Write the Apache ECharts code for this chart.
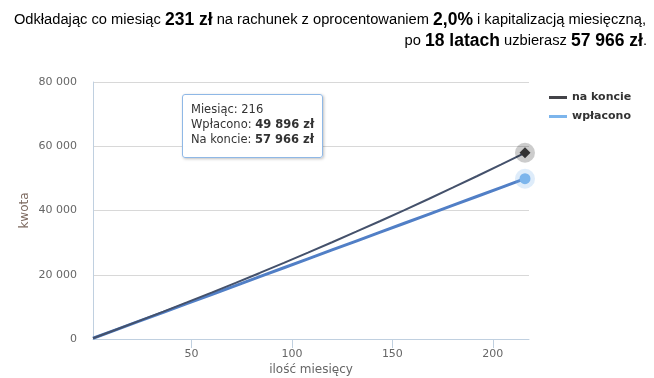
<!DOCTYPE html>
<html>
<head>
    <meta charset="utf-8">
    <title>Oszczędzanie</title>
    <script src="https://cdn.jsdelivr.net/npm/echarts@6/dist/echarts.min.js"></script>
    <style>
        html, body { margin: 0; padding: 0; background: #fff; }
    </style>
</head>
<body>
<div id="main" style="width: 654px;height:378px;"></div>
<script type="text/javascript">
    // miesiące (co rok) i kwoty
    var months = [1, 12, 24, 36, 48, 60, 72, 84, 96, 108, 120, 132, 144, 156, 168, 180, 192, 204, 216];
    var wplacono = [231, 2772, 5544, 8316, 11088, 13860, 16632, 19404, 22176, 24948, 27720, 30492, 33264, 36036, 38808, 41580, 44352, 47124, 49896];
    var naKoncie = [231, 2797, 5639, 8527, 11463, 14446, 17478, 20560, 23692, 26875, 30110, 33398, 36740, 40136, 43587, 47095, 50660, 54283, 57966];
    var yTicks = [0, 20000, 40000, 60000, 80000];
    var xTicks = [50, 100, 150, 200];

    function fmt(v) {
        return String(v).replace(/\B(?=(\d{3})+(?!\d))/g, ' ');
    }
    function pairs(ys) {
        return months.map(function (m, i) { return [m, ys[i]]; });
    }

    var last = months.length - 1;
    var font = 'DejaVu Sans';
    var titleStyle = {
        fontFamily: 'Liberation Sans', fontSize: 14.7, fontWeight: 'normal', color: '#000',
        rich: { b: { fontFamily: 'Liberation Sans', fontSize: 17.5, fontWeight: 'bold', color: '#000' } }
    };

    var myChart = echarts.init(document.getElementById('main'));
    myChart.setOption({
        animation: false,
        title: [{
            right: 8,
            top: 11,
            padding: 0,
            text: 'Odkładając co miesiąc {b|231 zł} na rachunek z oprocentowaniem {b|2,0%} i kapitalizacją miesięczną,',
            textStyle: titleStyle
        }, {
            right: 7,
            top: 32,
            padding: 0,
            text: 'po {b|18 latach} uzbierasz {b|57 966 zł}.',
            textStyle: titleStyle
        }],
        legend: {
            orient: 'vertical',
            left: 549,
            top: 92,
            padding: 0,
            itemGap: 8,
            itemWidth: 18,
            itemHeight: 3,
            icon: 'rect',
            textStyle: { fontFamily: font, fontSize: 11, fontWeight: 'bold', color: '#333' },
            data: [
                { name: 'na koncie', itemStyle: { color: '#434348' } },
                { name: 'wpłacono', itemStyle: { color: '#7cb5ec' } }
            ]
        },
        tooltip: {
            trigger: 'axis',
            alwaysShowContent: true,
            transitionDuration: 0,
            axisPointer: { type: 'none' },
            position: [182, 94],
            backgroundColor: 'rgba(255,255,255,0.96)',
            borderColor: '#8fb8e6',
            borderWidth: 1,
            borderRadius: 3,
            padding: [7, 8, 10, 8],
            extraCssText: 'box-shadow: 1px 1px 3px rgba(0,0,0,0.25); line-height:15px;',
            textStyle: { fontFamily: font, fontSize: 11.5, color: '#333' },
            formatter: function () {
                return 'Miesiąc: ' + months[last] +
                    '<br/>Wpłacono: <b>' + fmt(wplacono[last]) + ' zł</b>' +
                    '<br/>Na koncie: <b>' + fmt(naKoncie[last]) + ' zł</b>';
            }
        },
        grid: { left: 93, right: 125, top: 82, bottom: 39, outerBoundsMode: 'none', containLabel: false },
        xAxis: {
            type: 'value',
            min: 1,
            max: 218,
            name: 'ilość miesięcy',
            nameLocation: 'middle',
            nameGap: 25,
            nameMoveOverlap: false,
            nameTextStyle: { fontFamily: font, fontSize: 12, color: '#666' },
            axisLine: { lineStyle: { color: '#c0d0e0' } },
            axisTick: { show: true, length: 9, customValues: xTicks, lineStyle: { color: '#c0d0e0' } },
            axisLabel: { margin: 10, customValues: xTicks, fontFamily: font, fontSize: 11, color: '#666' },
            splitLine: { show: false }
        },
        yAxis: {
            type: 'value',
            min: yTicks[0],
            max: yTicks[yTicks.length - 1],
            interval: 20000,
            name: 'kwota',
            nameLocation: 'middle',
            nameGap: 62,
            nameMoveOverlap: false,
            nameTextStyle: { fontFamily: font, fontSize: 12, color: '#7d6a60' },
            axisLine: { show: true, lineStyle: { color: '#c0d0e0' } },
            axisTick: { show: false },
            axisLabel: {
                margin: 16, fontFamily: font, fontSize: 11, color: '#666',
                formatter: function (v) { return fmt(v); }
            },
            splitLine: { lineStyle: { color: '#d8d8d8' } }
        },
        series: [{
            name: 'na koncie',
            type: 'line',
            symbol: 'none',
            itemStyle: { color: '#434348' },
            lineStyle: { color: '#3e4a62', width: 2 },
            z: 3,
            data: pairs(naKoncie),
            markPoint: {
                label: { show: false },
                data: [
                    { coord: [months[last], naKoncie[last]], symbol: 'circle', symbolSize: 20, itemStyle: { color: 'rgba(0,0,0,0.2)' } },
                    { coord: [months[last], naKoncie[last]], symbol: 'diamond', symbolSize: 11, itemStyle: { color: '#333' } }
                ]
            }
        }, {
            name: 'wpłacono',
            type: 'line',
            symbol: 'none',
            itemStyle: { color: '#7cb5ec' },
            lineStyle: { color: '#4a74b4', width: 3 },
            z: 2,
            data: pairs(wplacono),
            markPoint: {
                label: { show: false },
                data: [
                    { coord: [months[last], wplacono[last]], symbol: 'circle', symbolSize: 20, itemStyle: { color: 'rgba(124,181,236,0.25)' } },
                    { coord: [months[last], wplacono[last]], symbol: 'circle', symbolSize: 11, itemStyle: { color: '#7cb5ec' } }
                ]
            }
        }]
    });
    myChart.dispatchAction({ type: 'showTip', seriesIndex: 0, dataIndex: last });
</script>
</body>
</html>
